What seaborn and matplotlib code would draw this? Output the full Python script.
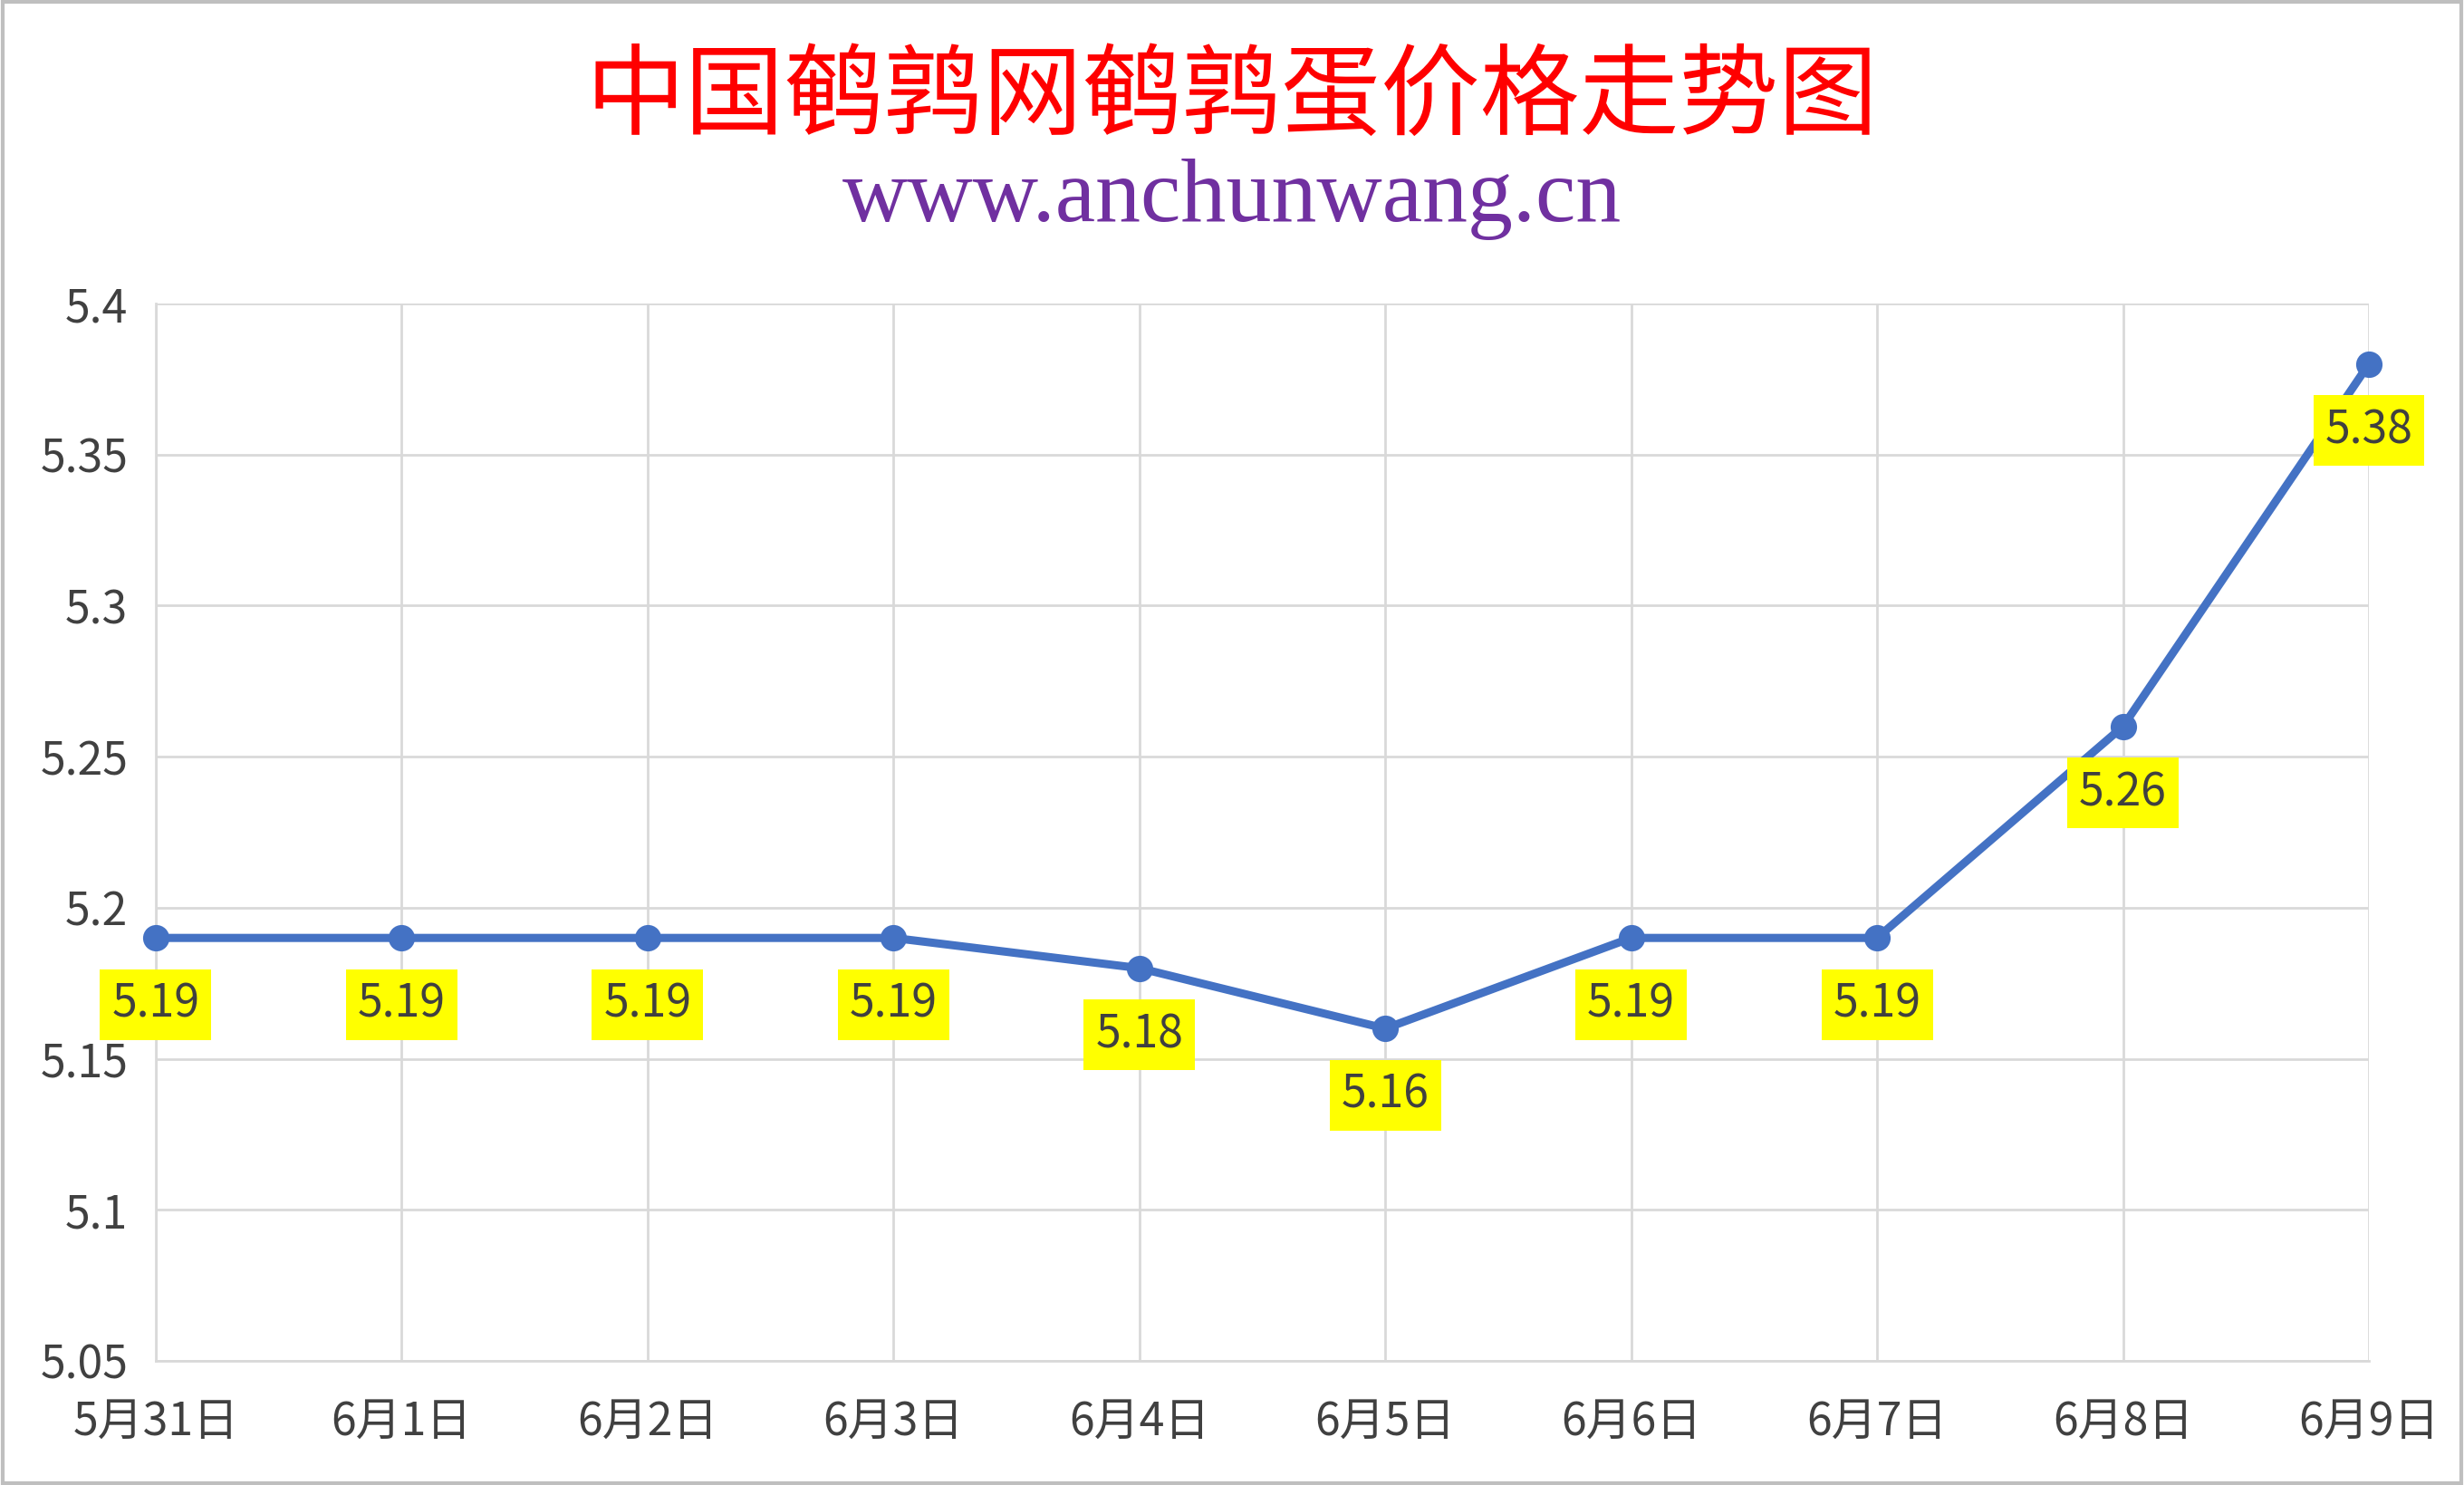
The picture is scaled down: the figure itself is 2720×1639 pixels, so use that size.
import numpy as np
import pandas as pd
import matplotlib
matplotlib.use('Agg')
import matplotlib.pyplot as plt
import seaborn as sns

# datos
dates = ['5月31日', '6月1日', '6月2日', '6月3日', '6月4日',
         '6月5日', '6月6日', '6月7日', '6月8日', '6月9日']
prices = [5.19, 5.19, 5.19, 5.19, 5.18, 5.16, 5.19, 5.19, 5.26, 5.38]
yticks = [5.05, 5.1, 5.15, 5.2, 5.25, 5.3, 5.35, 5.4]

title = '中国鹌鹑网鹌鹑蛋价格走势图'
subtitle = 'www.anchunwang.cn'

df = pd.DataFrame({'fecha': dates, 'precio': prices})

sns.set_style('white')
plt.rcParams['font.family'] = ['Noto Sans CJK SC', 'DejaVu Sans']

fig = plt.figure(figsize=(27.2, 16.39), dpi=100)
ax = fig.add_axes([0.0632, 0.0836, 0.8982, 0.712])

sns.lineplot(data=df, x='fecha', y='precio', ax=ax, color='#4472C4',
             linewidth=6.5, marker='o', markersize=21, markeredgewidth=0,
             sort=False, clip_on=False, zorder=4)

ax.set_xlim(0, len(dates) - 1)
ax.set_ylim(yticks[0], yticks[-1])
ax.set_yticks(yticks)
ax.set_yticklabels([f'{v:g}' for v in yticks])
ax.set_xticks(range(len(dates)))
ax.set_xticklabels(dates)
ax.set_xlabel('')
ax.set_ylabel('')
ax.tick_params(axis='both', length=0, labelsize=36, colors='#404040')
ax.tick_params(axis='y', pad=22)
ax.tick_params(axis='x', pad=30)
ax.grid(True, color='#D9D9D9', linewidth=2)
ax.set_axisbelow(True)
for side in ['top', 'right']:
    ax.spines[side].set_visible(False)
for side in ['left', 'bottom']:
    ax.spines[side].set_color('#D9D9D9')
    ax.spines[side].set_linewidth(2)

# etiquetas de datos
for i, v in enumerate(prices):
    ax.annotate(f'{v:.2f}', xy=(i, v), xytext=(0, -53),
                textcoords='offset points', ha='center', va='center',
                fontsize=36, color='#404040', zorder=5,
                bbox=dict(boxstyle='square,pad=0.26', fc='#FFFF00', ec='none'))

fig.text(0.5, 0.9335, title, ha='center', va='center', fontsize=79,
         color='#FF0000')
fig.text(0.5, 0.8658, subtitle, ha='center', va='center', fontsize=72,
         color='#7030A0', family='Liberation Serif')

# borde de la figura
fig.patches.append(plt.Rectangle((0.001, 0.001), 0.998, 0.998,
                                 transform=fig.transFigure, fill=False,
                                 edgecolor='#BFBFBF', linewidth=3))

fig.savefig('out.png', dpi=100)
